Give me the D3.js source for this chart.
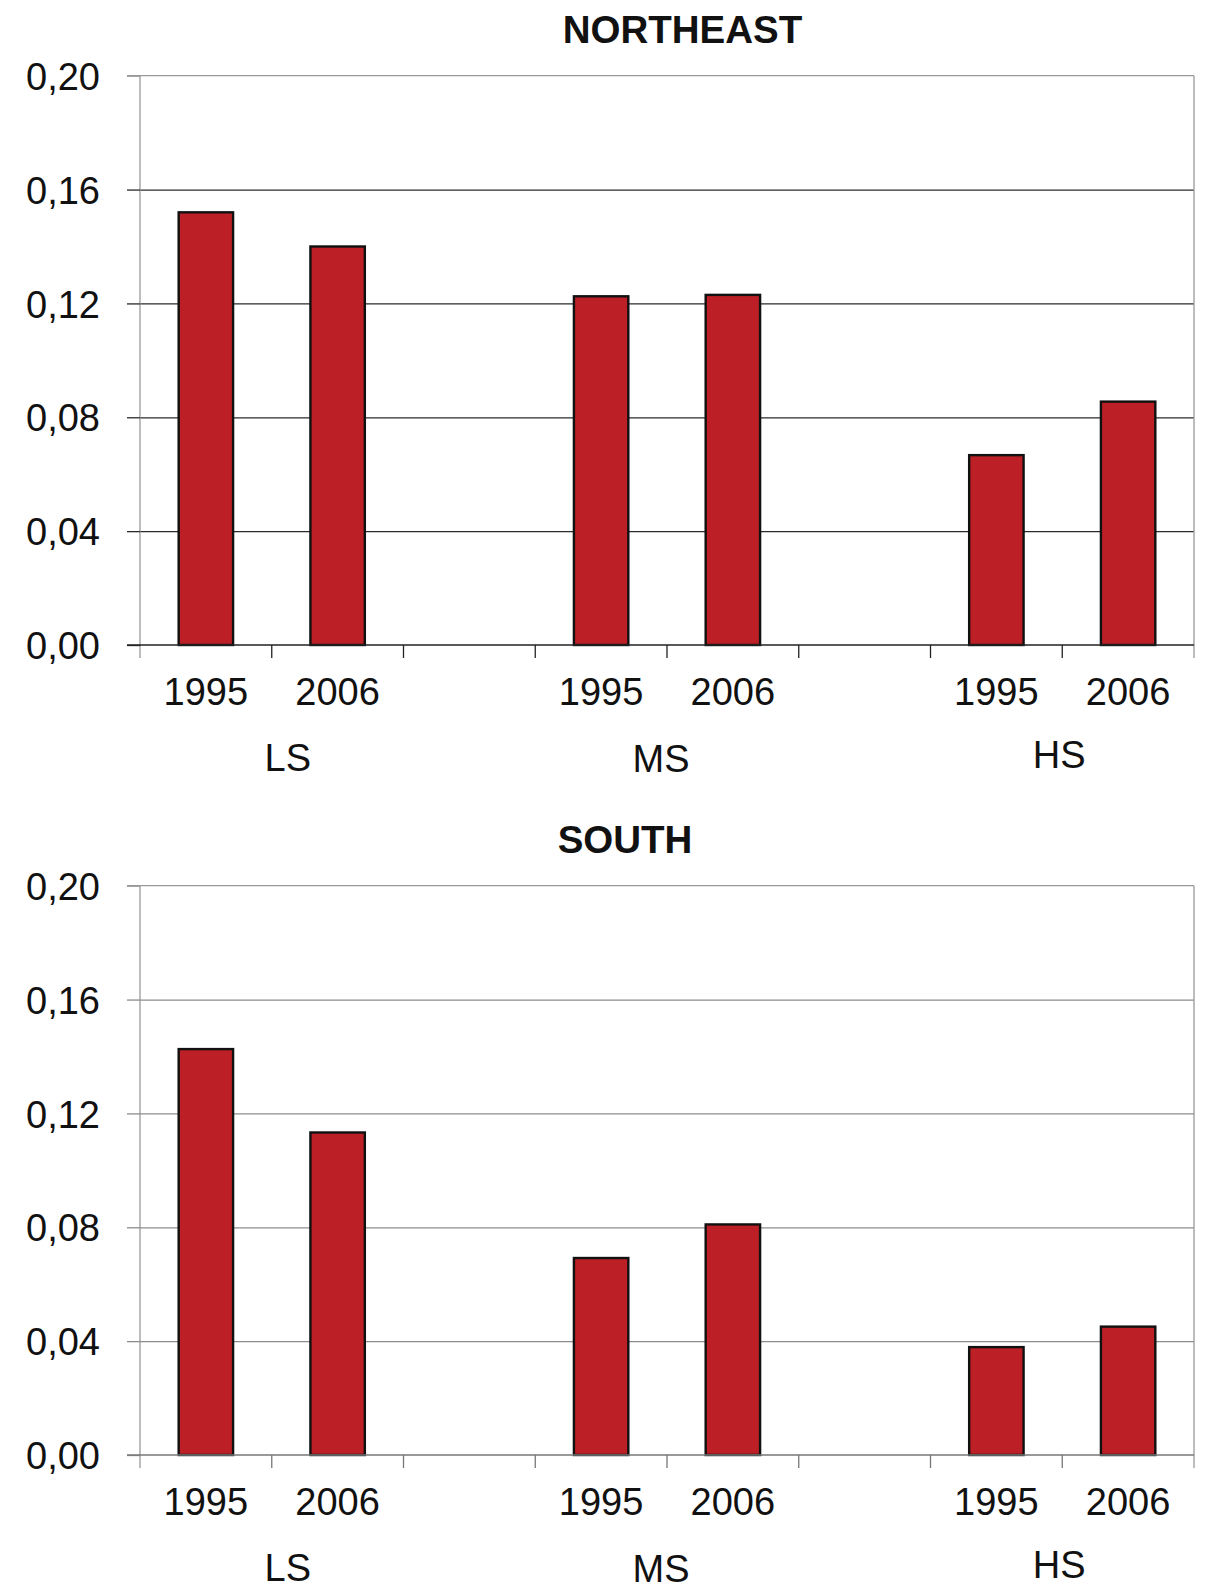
<!DOCTYPE html>
<html>
<head>
<meta charset="utf-8">
<script src="https://cdn.jsdelivr.net/npm/d3@7"></script>
<style>
  html, body { margin: 0; padding: 0; background: #fff; }
  svg { display: block; }
  text { font-family: "Liberation Sans", Arial, Helvetica, sans-serif; fill: #111; }
</style>
</head>
<body>
<svg id="chart" width="1205" height="1584"></svg>
<script>
// ---- data ----
const groups = ["LS", "MS", "HS"];
const years = ["1995", "2006"];
const northeastValues = [0.152, 0.140, 0.1225, 0.123, 0.0667, 0.0855];
const southValues = [0.1426, 0.1133, 0.0692, 0.081, 0.0379, 0.0451];
const yTickValues = [0, 0.04, 0.08, 0.12, 0.16, 0.20];
const panelTitles = ["NORTHEAST", "SOUTH"];

// ---- layout ----
const svg = d3.select("#chart");
const W = 1205;
const margin = { left: 140, right: 11 };
const panelOffset = 810;
const plotTop = 75.7, plotBottom = 645;
const titleX = [682.5, 625];
const groupLabelDx = [16, -6, -3];
const groupLabelBaseline = [771, 772, 768];
const fmt = v => d3.format(".2f")(v).replace(".", ",");

// slot keys: group/year with empty slots between groups
const slots = [];
groups.forEach((g, gi) => {
  years.forEach(y => slots.push(g + "|" + y));
  if (gi < groups.length - 1) slots.push("gap" + gi);
});

const x = d3.scaleBand().domain(slots).range([margin.left, W - margin.right]).padding(0);
const y = d3.scaleLinear().domain([0, 0.20]).range([plotBottom, plotTop]);
const barFrac = 0.413;

function drawPanel(values, title, pi) {
  const g = svg.append("g").attr("transform", `translate(0,${pi * panelOffset})`);
  const gridCol = pi === 0 ? "#2a2a2a" : "#8c8c8c";
  const baseCol = pi === 0 ? "#222" : "#777";

  // title
  g.append("text")
    .attr("x", titleX[pi]).attr("y", 43.3)
    .attr("text-anchor", "middle")
    .attr("font-size", 38.5).attr("font-weight", "bold")
    .text(title);

  // gridlines via axis
  const yGrid = d3.axisLeft(y).tickValues(yTickValues.filter(v => v > 0 && v < 0.20))
    .tickSize(-(W - margin.right - margin.left)).tickFormat("");
  const gg = g.append("g").attr("transform", `translate(${margin.left},0)`).call(yGrid);
  gg.select(".domain").remove();
  gg.selectAll("line").attr("stroke", gridCol).attr("stroke-width", 1.3);

  // plot border (top, right) grey
  g.append("line").attr("x1", margin.left - 13).attr("x2", W - margin.right)
    .attr("y1", y(0.20)).attr("y2", y(0.20)).attr("stroke", "#999").attr("stroke-width", 1.3);
  g.append("line").attr("x1", W - margin.right).attr("x2", W - margin.right)
    .attr("y1", y(0.20)).attr("y2", plotBottom + 13).attr("stroke", "#999").attr("stroke-width", 1.3);

  // y axis
  const yAxis = d3.axisLeft(y).tickValues(yTickValues).tickSize(13).tickPadding(27).tickFormat(fmt);
  const ya = g.append("g").attr("transform", `translate(${margin.left},0)`).call(yAxis);
  ya.select(".domain").attr("stroke", "#999").attr("stroke-width", 1.3)
    .attr("d", `M0,${y(0.20)}V${plotBottom + 13}`);
  ya.selectAll(".tick line").attr("stroke", (d) => d === 0.20 ? "#999" : gridCol).attr("stroke-width", 1.3);
  ya.selectAll(".tick text").attr("font-size", 38).attr("fill", "#111")
    .attr("font-family", "'Liberation Sans', Arial, sans-serif").attr("dy", "0.36em");

  // bars
  const data = [];
  groups.forEach((gr, gi) => years.forEach((yr, yi) => data.push({ key: gr + "|" + yr, year: yr, value: values[gi * 2 + yi] })));
  const bw = x.bandwidth() * barFrac;
  g.append("g").selectAll("rect").data(data).join("rect")
    .attr("x", d => x(d.key) + x.bandwidth() / 2 - bw / 2)
    .attr("width", bw)
    .attr("y", d => y(d.value))
    .attr("height", d => y(0) - y(d.value))
    .attr("fill", "#BC1F25")
    .attr("stroke", "#111").attr("stroke-width", 2.4);

  // baseline & x ticks at slot boundaries
  g.append("line").attr("x1", margin.left - 13).attr("x2", W - margin.right)
    .attr("y1", y(0)).attr("y2", y(0)).attr("stroke", baseCol).attr("stroke-width", 1.4);
  const bounds = slots.slice(1).map(s => x(s));
  g.append("g").selectAll("line").data(bounds).join("line")
    .attr("x1", d => d).attr("x2", d => d)
    .attr("y1", y(0)).attr("y2", y(0) + 13)
    .attr("stroke", baseCol).attr("stroke-width", 1.3);

  // year labels
  g.append("g").selectAll("text").data(data).join("text")
    .attr("x", d => x(d.key) + x.bandwidth() / 2)
    .attr("y", 705)
    .attr("text-anchor", "middle").attr("font-size", 38)
    .text(d => d.year);

  // group labels
  g.append("g").selectAll("text").data(groups).join("text")
    .attr("x", (d, i) => (x(d + "|" + years[0]) + x(d + "|" + years[1]) + x.bandwidth()) / 2 + groupLabelDx[i])
    .attr("y", (d, i) => groupLabelBaseline[i])
    .attr("text-anchor", "middle").attr("font-size", 38)
    .text(d => d);
}

drawPanel(northeastValues, panelTitles[0], 0);
drawPanel(southValues, panelTitles[1], 1);
</script>
</body>
</html>
